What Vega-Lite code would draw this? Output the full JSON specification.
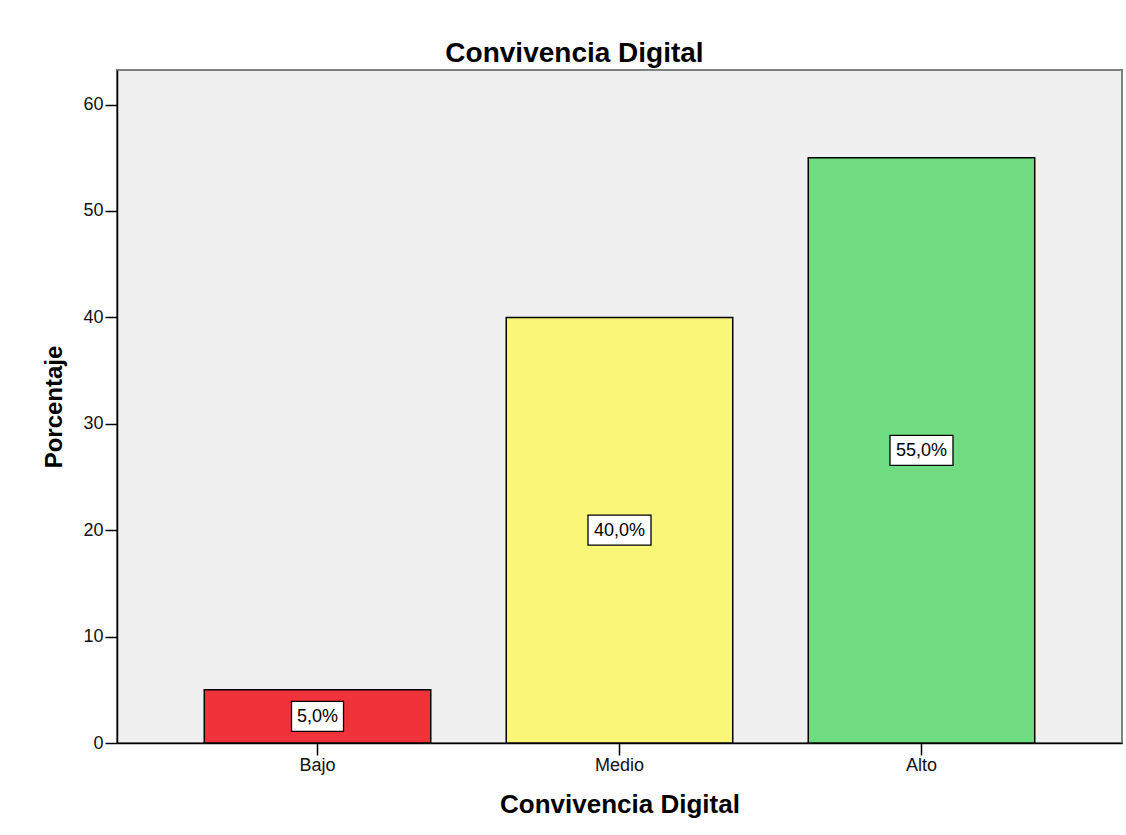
{
  "$schema": "https://vega.github.io/schema/vega-lite/v6.json",
  "width": 1005,
  "height": 673,
  "autosize": "none",
  "padding": {"left": 117, "top": 70, "right": 4, "bottom": 92},
  "background": "white",
  "title": {
    "text": "Convivencia Digital",
    "font": "Liberation Sans",
    "fontSize": 28,
    "fontWeight": "bold",
    "color": "black",
    "anchor": "middle",
    "frame": "group",
    "dx": -45,
    "offset": -20,
    "baseline": "alphabetic"
  },
  "data": {
    "values": [
      {"nivel": "Bajo", "porcentaje": 5.0, "etiqueta": "5,0%"},
      {"nivel": "Medio", "porcentaje": 40.0, "etiqueta": "40,0%"},
      {"nivel": "Alto", "porcentaje": 55.0, "etiqueta": "55,0%"}
    ]
  },
  "encoding": {
    "x": {
      "field": "nivel",
      "type": "nominal",
      "sort": ["Bajo", "Medio", "Alto"],
      "title": "Convivencia Digital",
      "scale": {"paddingInner": 0.25, "paddingOuter": 0.289}
    }
  },
  "layer": [
    {
      "mark": {"type": "bar", "stroke": "black", "strokeWidth": 1.5},
      "encoding": {
        "y": {
          "field": "porcentaje",
          "type": "quantitative",
          "title": "Porcentaje",
          "scale": {"domain": [0, 63.25], "nice": false, "zero": true},
          "axis": {"values": [0, 10, 20, 30, 40, 50, 60]}
        },
        "color": {
          "field": "nivel",
          "type": "nominal",
          "scale": {"domain": ["Bajo", "Medio", "Alto"], "range": ["#F0323A", "#FAF678", "#70DC82"]},
          "legend": null
        }
      }
    },
    {
      "transform": [
        {"calculate": "datum.porcentaje / 2 - 1.41", "as": "y0"},
        {"calculate": "datum.porcentaje / 2 + 1.41", "as": "y1"}
      ],
      "mark": {
        "type": "bar",
        "fill": "white",
        "stroke": "black",
        "strokeWidth": 1.3,
        "width": {"expr": "length(datum.etiqueta) * 11 + 8"}
      },
      "encoding": {
        "y": {"field": "y0", "type": "quantitative", "title": "Porcentaje", "axis": {"values": [0, 10, 20, 30, 40, 50, 60]}},
        "y2": {"field": "y1"}
      }
    },
    {
      "transform": [{"calculate": "datum.porcentaje / 2", "as": "ym"}],
      "mark": {
        "type": "text",
        "font": "Liberation Sans",
        "fontSize": 18,
        "color": "black",
        "baseline": "middle",
        "dy": 1
      },
      "encoding": {
        "y": {"field": "ym", "type": "quantitative", "title": "Porcentaje", "axis": {"values": [0, 10, 20, 30, 40, 50, 60]}},
        "text": {"field": "etiqueta"}
      }
    }
  ],
  "config": {
    "view": {"fill": "#F0F0F0", "stroke": "#808080", "strokeWidth": 2},
    "axis": {
      "domainColor": "black",
      "domainWidth": 1.5,
      "tickColor": "black",
      "tickWidth": 1.5,
      "tickSize": 12,
      "labelFont": "Liberation Sans",
      "labelFontSize": 18,
      "labelColor": "#111111",
      "titleFont": "Liberation Sans",
      "titleFontSize": 24,
      "titleFontWeight": "bold",
      "titleColor": "black",
      "grid": false
    },
    "axisX": {"labelAngle": 0, "labelPadding": 1, "titlePadding": 17, "titleFontSize": 26},
    "axisY": {"labelPadding": 2, "titlePadding": 16}
  }
}
